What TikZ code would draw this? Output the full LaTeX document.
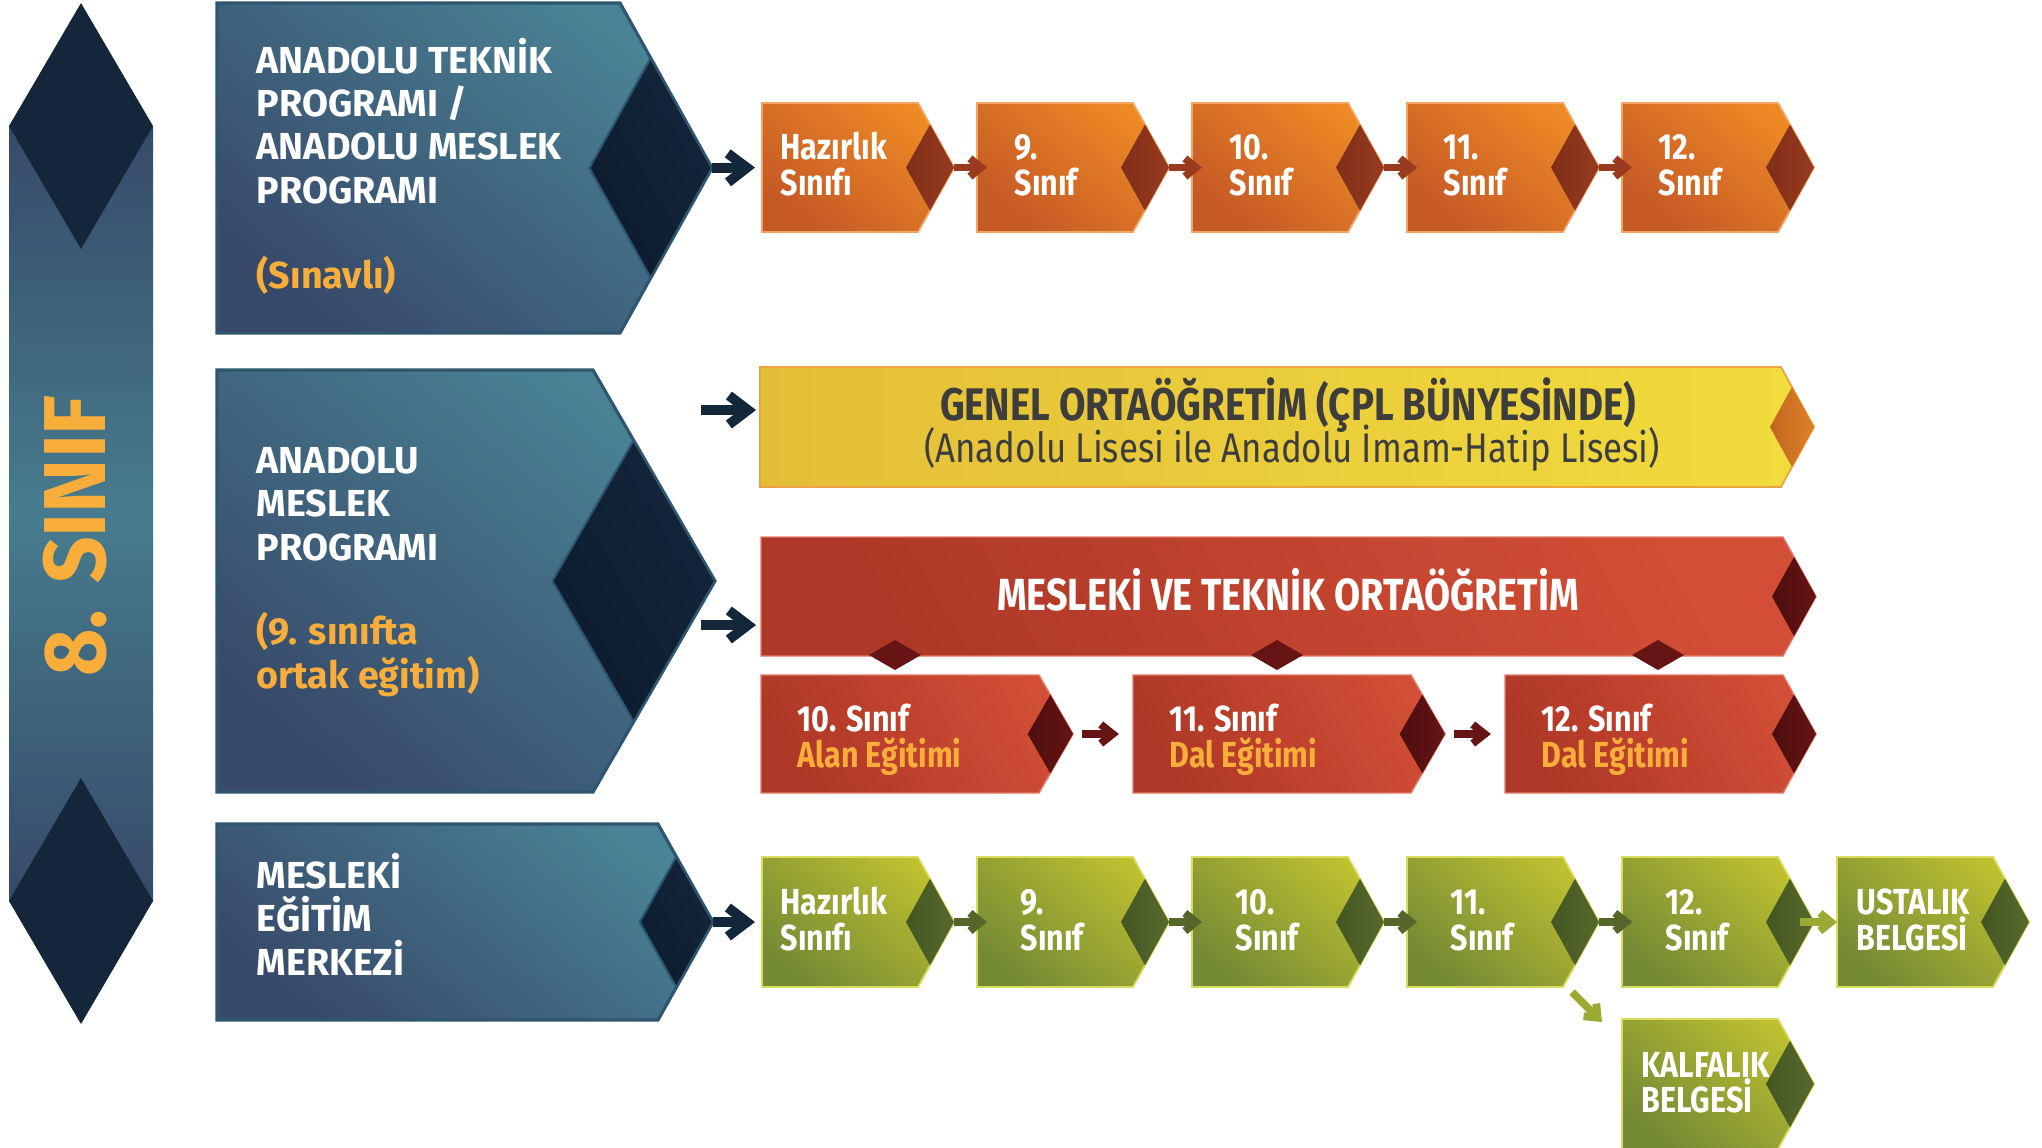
\documentclass[tikz,border=0pt]{standalone}
\usepackage{fontspec}
\setmainfont{Fira Sans}
\newfontfamily\cond[FakeStretch=0.84]{Fira Sans}
\newfontfamily\condb[FakeStretch=0.93]{Fira Sans}
\usetikzlibrary{arrows.meta,calc}

\definecolor{navy}{HTML}{14263A}
\definecolor{navyB}{HTML}{0D1C2E}
\definecolor{barDark}{HTML}{364A69}
\definecolor{barMid}{HTML}{477C8E}
\definecolor{tealLight}{HTML}{4A8395}
\definecolor{tealDark}{HTML}{374A6A}
\definecolor{tealEdge}{HTML}{2F5670}
\definecolor{accent}{HTML}{F9AE3C}
\definecolor{orLight}{HTML}{EE8A24}
\definecolor{orDark}{HTML}{C45926}
\definecolor{orEdge}{HTML}{F2A462}
\definecolor{orDia}{HTML}{983B1F}
\definecolor{orDiaB}{HTML}{7E2F19}
\definecolor{yLight}{HTML}{F1DC3D}
\definecolor{yDark}{HTML}{E4BE38}
\definecolor{yEdge}{HTML}{E9A33F}
\definecolor{yDia}{HTML}{E0812A}
\definecolor{yDiaB}{HTML}{C0661E}
\definecolor{yText}{HTML}{3D3D3D}
\definecolor{rLight}{HTML}{D24E36}
\definecolor{rDark}{HTML}{AE3827}
\definecolor{rEdge}{HTML}{E27B68}
\definecolor{rDia}{HTML}{661414}
\definecolor{rDiaB}{HTML}{4E0E0E}
\definecolor{gLight}{HTML}{BEC030}
\definecolor{gDark}{HTML}{748A35}
\definecolor{gEdge}{HTML}{D9DC5C}
\definecolor{gDia}{HTML}{566A2C}
\definecolor{gDiaB}{HTML}{445622}
\definecolor{gArrow}{HTML}{55662B}
\definecolor{gArrowL}{HTML}{9AAA32}

% chevron box: name, left, top, corner, bottom, tip, style prefix
\newcommand\chev[7]{%
  \pgfmathsetmacro\cy{(#3+#5)/2}%
  \pgfmathsetmacro\dd{(#6-#4)/3}%
  \pgfmathsetmacro\hh{(#5-#3)/6}%
  \path[#7 body] (#2,#3) -- (#4,#3) -- (#6,\cy) -- (#4,#5) -- (#2,#5) -- cycle;
  \path[#7 dia] (#4-\dd,\cy) -- (#4+\dd,#3+\hh) -- (#6,\cy) -- (#4+\dd,#5-\hh) -- cycle;
  \coordinate (#1-tip) at (#6,\cy);
  \coordinate (#1-w) at (#2,\cy);
  \coordinate (#1-in) at (#2+10,\cy);
}

\tikzset{
  teal body/.style={top color=tealLight, bottom color=tealDark, shading angle=-40, draw=tealEdge, line width=0.9pt},
  teal dia/.style={top color=navy, bottom color=navyB, shading angle=-60, draw=tealEdge, line width=0.6pt},
  or body/.style={top color=orLight, bottom color=orDark, shading angle=-40, draw=orEdge, line width=0.5pt},
  or dia/.style={left color=orDiaB, right color=orDia, draw=none},
  yel body/.style={left color=yDark, right color=yLight, draw=yEdge, line width=0.5pt},
  yel dia/.style={left color=yDiaB, right color=yDia, draw=none},
  red body/.style={top color=rLight, bottom color=rDark, shading angle=-60, draw=rEdge, line width=0.4pt},
  red dia/.style={left color=rDiaB, right color=rDia, draw=none},
  grn body/.style={top color=gLight, bottom color=gDark, shading angle=-40, draw=gEdge, line width=0.5pt},
  grn dia/.style={left color=gDiaB, right color=gDia, draw=none},
  tealtxt/.style={font=\bfseries\fontsize{10.7}{12.3}\selectfont, text=white, align=left, anchor=base west, inner sep=0pt},
  boxtxt/.style={font=\cond\bfseries\fontsize{10.3}{9.96}\selectfont, text=white, align=left, anchor=base west, inner sep=0pt},
  subtxt/.style={font=\cond\bfseries\fontsize{10.3}{9.96}\selectfont, text=white, align=left, anchor=base west, inner sep=0pt},
  navyarrow/.style={draw=navy, line width=2.8pt, -{Straight Barb[length=1.9mm, width=2.9mm]}},
  orarrow/.style={draw=orDia, line width=2.2pt, -{Straight Barb[length=1.1mm, width=1.8mm]}},
  redarrow/.style={draw=rDia, line width=2.2pt, -{Straight Barb[length=1.2mm, width=1.9mm]}},
  grnarrow/.style={draw=gArrow, line width=2.2pt, -{Straight Barb[length=1.1mm, width=1.8mm]}},
  lgarrow/.style={draw=gArrowL, line width=2.2pt, -{Straight Barb[length=1.1mm, width=1.8mm]}},
  smalldia/.style={fill=rDia},
}

\begin{document}
\begin{tikzpicture}[x=0.01cm,y=-0.01cm]
\useasboundingbox (0,0) rectangle (2042,1147);

% ---- left bar ----
\path[top color=barDark, bottom color=barDark, middle color=barMid] (9,126) rectangle (153,901);
\path[fill=navy] (81,3) -- (153,126) -- (81,249) -- (9,126) -- cycle;
\path[fill=navy] (81,778) -- (153,901) -- (81,1024) -- (9,901) -- cycle;
\node[rotate=90, anchor=base, inner sep=0pt, text=accent, font=\condb\bfseries\fontsize{25}{25}\selectfont] (sinif) at (105,536) {8. SINIF};

% ---- teal boxes ----
\chev{A}{217}{3}{620}{333}{712}{teal}
\chev{B}{217}{370}{593}{792}{715}{teal}
\chev{C}{217}{824}{658}{1020}{713}{teal}
\node[tealtxt] (tA) at (256,203) {ANADOLU TEKNİK\\PROGRAMI /\\ANADOLU MESLEK\\PROGRAMI};
\node[tealtxt, text=accent] (tAo) at (256,288) {(Sınavlı)};
\node[tealtxt] (tB) at (256,560) {ANADOLU\\MESLEK\\PROGRAMI};
\node[tealtxt, text=accent] (tBo) at (256,688) {(9. sınıfta\\ortak eğitim)};
\node[tealtxt] (tC) at (256,975) {MESLEKİ\\EĞİTİM\\MERKEZİ};

% ---- orange row ----
\chev{O1}{762}{103}{918}{232}{954}{or}
\chev{O2}{977}{103}{1133}{232}{1169}{or}
\chev{O3}{1192}{103}{1348}{232}{1384}{or}
\chev{O4}{1407}{103}{1563}{232}{1599}{or}
\chev{O5}{1622}{103}{1778}{232}{1814}{or}
\node[boxtxt] (o1) at (780,195) {Hazırlık\\Sınıfı};
\node[boxtxt] (o2) at (1014,195) {9.\\Sınıf};
\node[boxtxt] (o3) at (1229,195) {10.\\Sınıf};
\node[boxtxt] (o4) at (1443,195) {11.\\Sınıf};
\node[boxtxt] (o5) at (1658,195) {12.\\Sınıf};

% ---- yellow bar ----
\chev{Y}{760}{367}{1781}{487}{1814}{yel}
\node[anchor=base, inner sep=0pt, text=yText, font=\cond\bfseries\fontsize{13}{14}\selectfont] (y1) at (1288,420) {GENEL ORTAÖĞRETİM (ÇPL BÜNYESİNDE)};
\node[anchor=base, inner sep=0pt, text=yText, font=\cond\fontsize{11.8}{14}\selectfont] (y2) at (1292,462) {(Anadolu Lisesi ile Anadolu İmam-Hatip Lisesi)};

% ---- red section ----
\chev{R}{761}{537}{1783}{656}{1816}{red}
\chev{S1}{761}{675}{1039}{793}{1073}{red}
\chev{S2}{1133}{675}{1411}{793}{1445}{red}
\chev{S3}{1505}{675}{1783}{793}{1816}{red}
\node[anchor=base, inner sep=0pt, text=white, font=\cond\bfseries\fontsize{12.8}{14}\selectfont] (r1) at (1288,610) {MESLEKİ VE TEKNİK ORTAÖĞRETİM};
\foreach \x/\n in {895/d1,1277/d2,1658/d3}{
  \path[smalldia] (\x-26,655) -- (\x,640) -- (\x+26,655) -- (\x,670) -- cycle;
}
\node[subtxt] (s1) at (797,767) {10. Sınıf\\{\color{accent}Alan Eğitimi}};
\node[subtxt] (s2) at (1169,767) {11. Sınıf\\{\color{accent}Dal Eğitimi}};
\node[subtxt] (s3) at (1541,767) {12. Sınıf\\{\color{accent}Dal Eğitimi}};

% ---- green row ----
\chev{G1}{762}{857}{918}{987}{954}{grn}
\chev{G2}{977}{857}{1133}{987}{1169}{grn}
\chev{G3}{1192}{857}{1348}{987}{1384}{grn}
\chev{G4}{1407}{857}{1563}{987}{1599}{grn}
\chev{G5}{1622}{857}{1778}{987}{1814}{grn}
\chev{U}{1837}{857}{1993}{987}{2029}{grn}
\chev{K}{1622}{1019}{1778}{1149}{1814}{grn}
\node[boxtxt] (g1) at (780,950) {Hazırlık\\Sınıfı};
\node[boxtxt] (g2) at (1020,950) {9.\\Sınıf};
\node[boxtxt] (g3) at (1235,950) {10.\\Sınıf};
\node[boxtxt] (g4) at (1450,950) {11.\\Sınıf};
\node[boxtxt] (g5) at (1665,950) {12.\\Sınıf};
\node[boxtxt] (u) at (1856,950) {USTALIK\\BELGESİ};
\node[boxtxt] (k) at (1641,1112) {KALFALIK\\BELGESİ};

% ---- connectors ----
\coordinate (Bout1) at (701,410);
\coordinate (Yin) at (756,410);
\coordinate (Bout2) at (701,625);
\coordinate (Rin) at (756,625);
\coordinate (G5out) at (1800,922);
\coordinate (G4out) at (1572,992);
\coordinate (Kin) at (1602,1022);

\draw[navyarrow, shorten >=2pt] (A-tip) -- (O1-w);
\draw[navyarrow] (Bout1) -- (Yin);
\draw[navyarrow] (Bout2) -- (Rin);
\draw[navyarrow, shorten >=2pt] (C-tip) -- (G1-w);

\draw[orarrow] (O1-tip) -- (O2-in);
\draw[orarrow] (O2-tip) -- (O3-in);
\draw[orarrow] (O3-tip) -- (O4-in);
\draw[orarrow] (O4-tip) -- (O5-in);

\draw[redarrow, shorten <=2.6pt, shorten >=4pt] (S1-tip) -- (S2-w);
\draw[redarrow, shorten <=2.6pt, shorten >=4pt] (S2-tip) -- (S3-w);

\draw[grnarrow] (G1-tip) -- (G2-in);
\draw[grnarrow] (G2-tip) -- (G3-in);
\draw[grnarrow] (G3-tip) -- (G4-in);
\draw[grnarrow] (G4-tip) -- (G5-in);
\draw[lgarrow] (G5out) -- (U-w);
\draw[lgarrow] (G4out) -- (Kin);
\end{tikzpicture}
\end{document}
